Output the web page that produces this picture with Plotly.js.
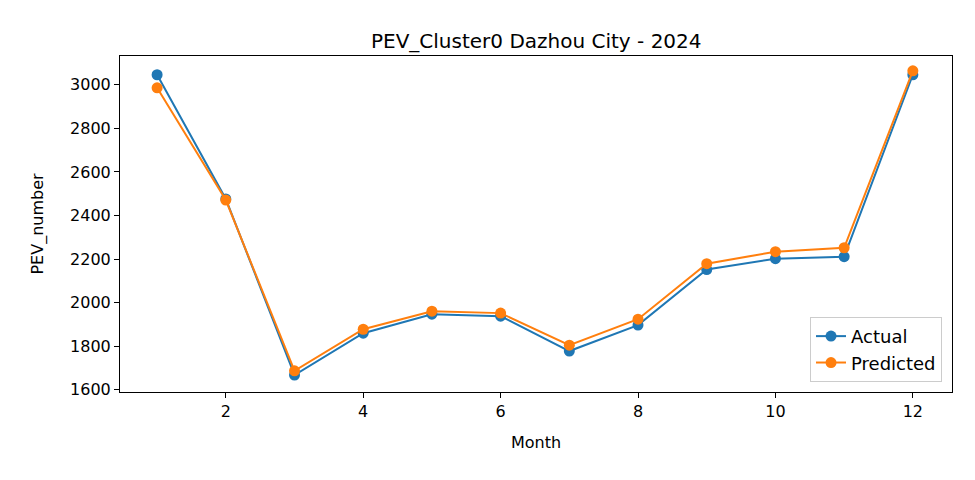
<!DOCTYPE html>
<html>
<head>
<script src="https://cdn.plot.ly/plotly-3.0.1.min.js"></script>
<style>body{margin:0}</style>
</head>
<body>
<div id="chart" style="width:975px;height:480px"></div>
<script>
const months = [1, 2, 3, 4, 5, 6, 7, 8, 9, 10, 11, 12];
const actual = [3046, 2476, 1668, 1860, 1947, 1938, 1778, 1897, 2152, 2202, 2211, 3046];
const predicted = [2986, 2471, 1687, 1878, 1961, 1952, 1805, 1924, 2179, 2234, 2252, 3064];

const traces = [
  {x: months, y: actual, name: 'Actual', mode: 'lines+markers',
   line: {color: '#1f77b4', width: 2}, marker: {size: 11, color: '#1f77b4'}},
  {x: months, y: predicted, name: 'Predicted', mode: 'lines+markers',
   line: {color: '#ff7f0e', width: 2}, marker: {size: 11, color: '#ff7f0e'}}
];

const axisStyle = {showgrid: false, zeroline: false, showline: true, mirror: true,
  linecolor: '#000', linewidth: 1, ticks: 'outside', ticklen: 5, tickcolor: '#000',
  tickfont: {size: 16, color: '#000'}};

const layout = {
  font: {family: 'DejaVu Sans', color: '#000'},
  title: {text: 'PEV_Cluster0 Dazhou City - 2024', font: {size: 20}, x: 0.55, y: 0.93},
  margin: {l: 120, r: 23, t: 56, b: 88},
  paper_bgcolor: '#fff', plot_bgcolor: '#fff',
  xaxis: Object.assign({}, axisStyle, {range: [0.46, 12.57], tickvals: [2, 4, 6, 8, 10, 12],
    title: {text: 'Month', font: {size: 16}, standoff: 16}}),
  yaxis: Object.assign({}, axisStyle, {range: [1590, 3132], dtick: 200,
    title: {text: 'PEV_number', font: {size: 16}, standoff: 22}}),
  legend: {x: 0.988, y: 0.03, xanchor: 'right', yanchor: 'bottom', bordercolor: '#ccc',
    borderwidth: 1, bgcolor: 'rgba(255,255,255,0.8)', font: {size: 18}},
  showlegend: true
};

Plotly.newPlot('chart', traces, layout, {displayModeBar: false});
</script>
</body>
</html>
